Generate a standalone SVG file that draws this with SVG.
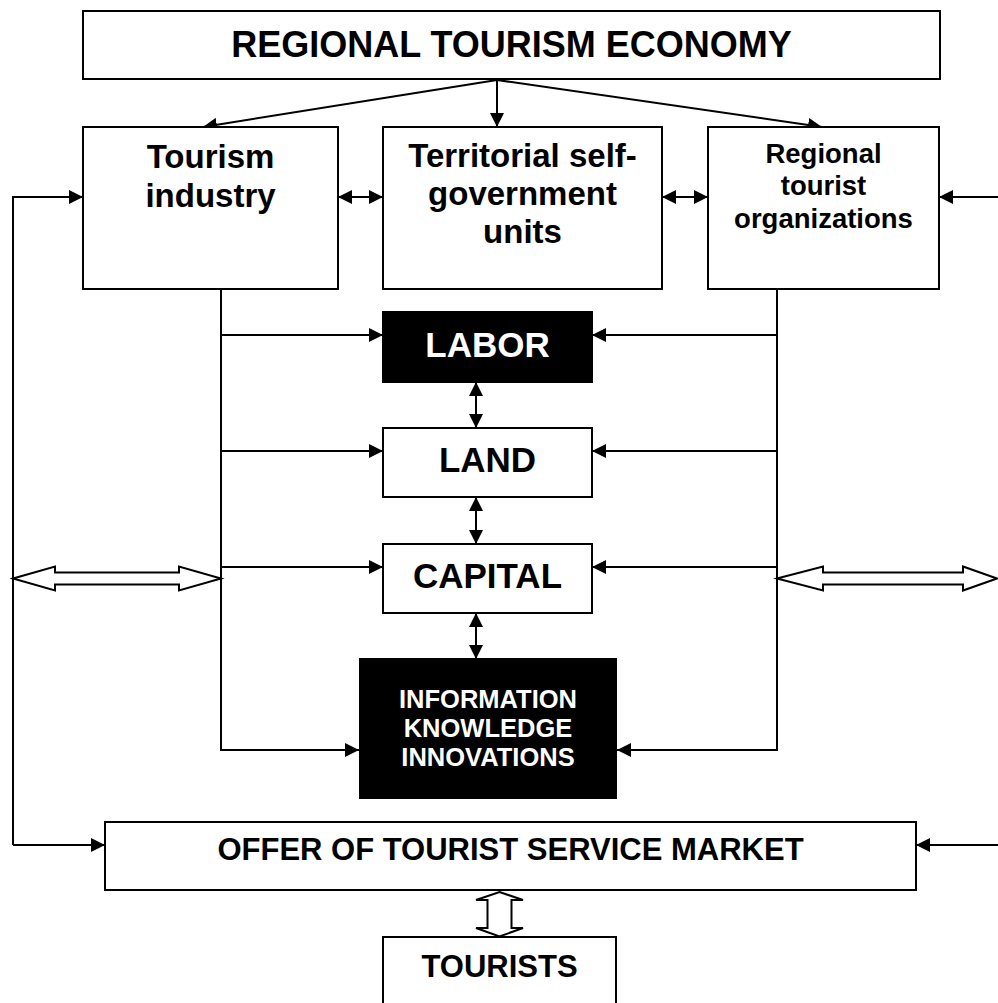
<svg xmlns="http://www.w3.org/2000/svg" width="998" height="1003" viewBox="0 0 998 1003">
<style>
.box{fill:#fff;stroke:#000;stroke-width:2}
.dark{fill:#000;stroke:#000;stroke-width:2}
.t{font-family:"Liberation Sans",Arial,sans-serif;font-weight:bold;text-anchor:middle;fill:#000}
.w{fill:#fff}
.ln{fill:none;stroke:#000;stroke-width:2}
.arr{marker-end:url(#ah)}
.dbl{marker-start:url(#ah);marker-end:url(#ah)}
.hollow{fill:#fff;stroke:#000;stroke-width:2;stroke-linejoin:miter}
</style>
<defs>
<marker id="ah" viewBox="0 0 14 14" refX="14" refY="7" markerWidth="14" markerHeight="14" markerUnits="userSpaceOnUse" orient="auto-start-reverse">
<path d="M0,0 L14,7 L0,14 z" fill="#000"/>
</marker>
</defs>
<rect width="998" height="1003" fill="#fff"/>
<g id="connectors">
<line class="ln arr" x1="497" y1="80" x2="203" y2="127"/>
<line class="ln arr" x1="497" y1="80" x2="497" y2="127"/>
<line class="ln arr" x1="497" y1="80" x2="822" y2="127"/>
<line class="ln dbl" x1="338" y1="197" x2="383" y2="197"/>
<line class="ln dbl" x1="662" y1="197" x2="708" y2="197"/>
<polyline class="ln arr" points="13,845 13,197 83,197"/>
<line class="ln arr" x1="13" y1="845" x2="105" y2="845"/>
<polyline class="ln arr" points="1000,845 1000,197 939,197"/>
<line class="ln arr" x1="1000" y1="845" x2="916" y2="845"/>
<polyline class="ln arr" points="221,289 221,750 359,750"/>
<line class="ln arr" x1="221" y1="335" x2="383" y2="335"/>
<line class="ln arr" x1="221" y1="451" x2="383" y2="451"/>
<line class="ln arr" x1="221" y1="567" x2="383" y2="567"/>
<polyline class="ln arr" points="777,289 777,750 617,750"/>
<line class="ln arr" x1="777" y1="335" x2="592" y2="335"/>
<line class="ln arr" x1="777" y1="451" x2="592" y2="451"/>
<line class="ln arr" x1="777" y1="567" x2="592" y2="567"/>
<line class="ln dbl" x1="476" y1="382" x2="476" y2="428"/>
<line class="ln dbl" x1="476" y1="497" x2="476" y2="544"/>
<line class="ln dbl" x1="476" y1="613" x2="476" y2="659"/>
<polygon class="hollow" points="13,578.5 55,566.5 55,572.5 179,572.5 179,566.5 221,578.5 179,590.5 179,584.5 55,584.5 55,590.5"/>
<polygon class="hollow" points="777,578.5 823,566.5 823,572.5 963,572.5 963,566.5 997,578.5 963,590.5 963,584.5 823,584.5 823,590.5"/>
<polygon class="hollow" points="499.5,892 523,900 511.5,900 511.5,928 523,928 499.5,936.5 476,928 487.5,928 487.5,900 476,900"/>
</g>
<g id="economy">
<rect class="box" x="83" y="11" width="857" height="68"/>
<text class="t" x="511.5" y="57" font-size="36">REGIONAL TOURISM ECONOMY</text>
</g>
<g id="industry">
<rect class="box" x="83" y="127" width="255" height="162"/>
<text class="t" x="210.5" y="168" font-size="33">Tourism</text>
<text class="t" x="210.5" y="207" font-size="33">industry</text>
</g>
<g id="territorial">
<rect class="box" x="383" y="127" width="279" height="162"/>
<text class="t" x="522.5" y="167" font-size="33">Territorial self-</text>
<text class="t" x="522.5" y="205" font-size="33">government</text>
<text class="t" x="522.5" y="243" font-size="33">units</text>
</g>
<g id="organizations">
<rect class="box" x="708" y="127" width="231" height="162"/>
<text class="t" x="823.5" y="163" font-size="27.5">Regional</text>
<text class="t" x="823.5" y="195" font-size="27.5">tourist</text>
<text class="t" x="823.5" y="228" font-size="27.5">organizations</text>
</g>
<g id="labor">
<rect class="dark" x="383" y="312" width="209" height="70"/>
<text class="t w" x="487.5" y="357" font-size="35">LABOR</text>
</g>
<g id="land">
<rect class="box" x="383" y="428" width="209" height="69"/>
<text class="t" x="487.5" y="472" font-size="35">LAND</text>
</g>
<g id="capital">
<rect class="box" x="383" y="544" width="209" height="69"/>
<text class="t" x="487.5" y="588" font-size="35">CAPITAL</text>
</g>
<g id="information">
<rect class="dark" x="360" y="659" width="256" height="139"/>
<text class="t w" x="488" y="708" font-size="25.5">INFORMATION</text>
<text class="t w" x="488" y="737" font-size="25.5">KNOWLEDGE</text>
<text class="t w" x="488" y="766" font-size="25.5">INNOVATIONS</text>
</g>
<g id="offer">
<rect class="box" x="105" y="822" width="811" height="68"/>
<text class="t" x="510.5" y="860" font-size="31">OFFER OF TOURIST SERVICE MARKET</text>
</g>
<g id="tourists">
<rect class="box" x="383" y="937" width="233" height="80"/>
<text class="t" x="499.5" y="977" font-size="31">TOURISTS</text>
</g>
</svg>
